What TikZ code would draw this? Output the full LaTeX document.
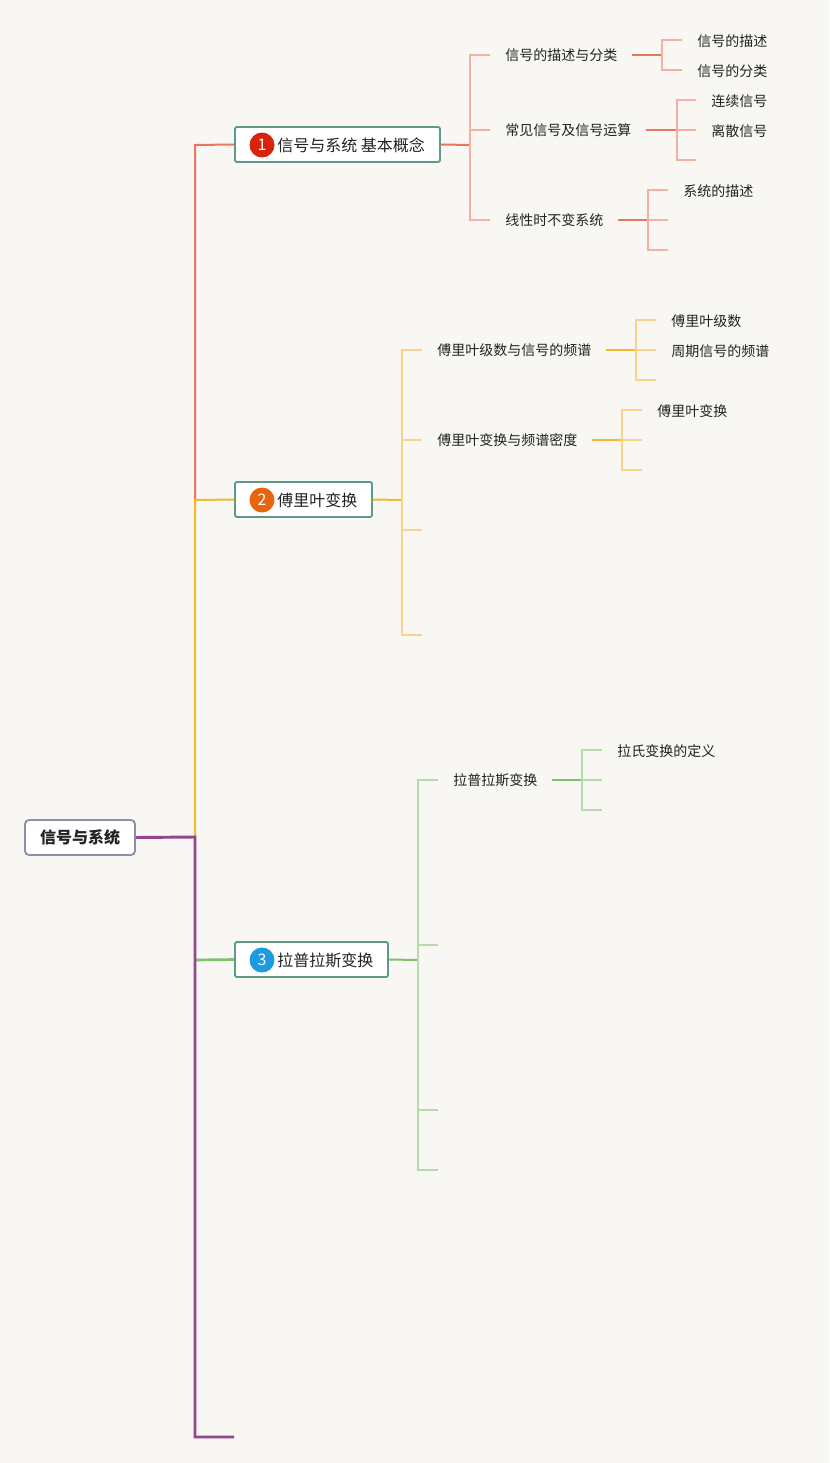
\documentclass[tikz,border=0pt]{standalone}
\usepackage{fontspec}
\setmainfont{Noto Sans CJK SC}
\definecolor{bg}{HTML}{F8F7F4}
\definecolor{txt}{HTML}{222222}
\definecolor{redm}{HTML}{EC7560}
\definecolor{redl}{HTML}{F5B0A3}
\definecolor{orm}{HTML}{F5B82E}
\definecolor{orl}{HTML}{F8D48A}
\definecolor{grm}{HTML}{7DC16A}
\definecolor{grl}{HTML}{B5DCA8}
\definecolor{purp}{HTML}{93468E}
\definecolor{tealb}{HTML}{5E998C}
\definecolor{rootb}{HTML}{8A90A6}
\definecolor{bdgr}{HTML}{D9230F}
\definecolor{bdgo}{HTML}{E8650F}
\definecolor{bdgb}{HTML}{1E9BE0}
\begin{document}
\begin{tikzpicture}[x=0.75pt,y=-0.75pt,
  lbl/.style={anchor=west,inner sep=0pt,font=\fontsize{10.5}{12}\selectfont,text=txt},
  mtxt/.style={anchor=west,inner sep=0pt,font=\fontsize{12}{14}\selectfont,text=txt},
  mbox/.style={draw=tealb,line width=1.4pt,fill=white,rounded corners=1.5pt,minimum height=26.25pt,inner sep=0pt},
  badge/.style={circle,inner sep=0pt,minimum size=18.75pt,text=white,font=\fontsize{12}{12}\selectfont},
  mainln/.style={line width=1.5pt},
  subln/.style={line width=1.1pt}
]
\fill[bg] (0,0) rectangle (829,1463);
\useasboundingbox (0,0) rectangle (829,1463);

% root
\node[draw=rootb,line width=1.4pt,fill=white,rounded corners=3pt,minimum width=82.5pt,minimum height=26.25pt,inner sep=0pt,font=\bfseries\fontsize{12}{14}\selectfont,text=txt] (root) at (80,837.5) {信号与系统};

% junction coordinates on trunk
\coordinate (t1) at (195,145);
\coordinate (t2) at (195,500);
\coordinate (t3) at (195,960);
\coordinate (tr) at (195,837);
\coordinate (tb) at (195,1437);
\coordinate (te) at (234,1437);

% main boxes
\node[mbox,minimum width=153.75pt] (m1) at (337.5,144.5) {};
\node[badge,fill=bdgr] (bd1) at (262,145) {1};
\node[mtxt] (m1t) at (277,145) {信号与系统 基本概念};
\node[mbox,minimum width=102.75pt] (m2) at (303.5,499.5) {};
\node[badge,fill=bdgo] (bd2) at (262,500) {2};
\node[mtxt] (m2t) at (277,500) {傅里叶变换};
\node[mbox,minimum width=114.75pt] (m3) at (311.5,959.5) {};
\node[badge,fill=bdgb] (bd3) at (262,960) {3};
\node[mtxt] (m3t) at (277,960) {拉普拉斯变换};

% trunk lines
\draw[redm,mainln] (t2) -- (t1) -- (m1.west);
\draw[orm,mainln] (tr) -- (t2) -- (m2.west);
\draw[grm,line width=2pt] (t3) -- (m3.west);
\draw[purp,line width=2.2pt] (root.east) -- (tr) -- (tb) -- (te);

% ---------- red subtree ----------
\coordinate (r0) at (470,145);
\coordinate (rA) at (470,55);
\coordinate (rB) at (470,130);
\coordinate (rC) at (470,220);
\coordinate (rAe) at (490,55);
\coordinate (rBe) at (490,130);
\coordinate (rCe) at (490,220);
\draw[redm,mainln] (m1.east) -- (r0);
\draw[redl,subln] (rAe) -- (rA) -- (rC) -- (rCe);
\draw[redl,subln] (rB) -- (rBe);
\node[lbl] (a1) at (505,55) {信号的描述与分类};
\node[lbl] (a2) at (505,130) {常见信号及信号运算};
\node[lbl] (a3) at (505,220) {线性时不变系统};

% a1 children
\coordinate (a1j) at (662,55);
\draw[redm,mainln] (632,55) -- (a1j);
\draw[redl,subln] (682,40) -- (662,40) -- (662,70) -- (682,70);
\node[lbl] (a11) at (697,41) {信号的描述};
\node[lbl] (a12) at (697,71) {信号的分类};

% a2 children
\coordinate (a2j) at (677,130);
\draw[redm,mainln] (646,130) -- (a2j);
\draw[redl,subln] (696,100) -- (677,100) -- (677,160) -- (696,160);
\draw[redl,subln] (a2j) -- (696,130);
\node[lbl] (a21) at (711,101) {连续信号};
\node[lbl] (a22) at (711,131) {离散信号};

% a3 children
\coordinate (a3j) at (648,220);
\draw[redm,mainln] (618,220) -- (a3j);
\draw[redl,subln] (668,190) -- (648,190) -- (648,250) -- (668,250);
\draw[redl,subln] (a3j) -- (668,220);
\node[lbl] (a31) at (683,191) {系统的描述};

% ---------- orange subtree ----------
\coordinate (o0) at (402,500);
\draw[orm,mainln] (m2.east) -- (o0);
\draw[orl,subln] (422,350) -- (402,350) -- (402,635) -- (422,635);
\draw[orl,subln] (402,440) -- (422,440);
\draw[orl,subln] (402,530) -- (422,530);
\node[lbl] (b1) at (437,350) {傅里叶级数与信号的频谱};
\node[lbl] (b2) at (437,440) {傅里叶变换与频谱密度};

\coordinate (b1j) at (636,350);
\draw[orm,mainln] (606,350) -- (b1j);
\draw[orl,subln] (656,320) -- (636,320) -- (636,380) -- (656,380);
\draw[orl,subln] (b1j) -- (656,350);
\node[lbl] (b11) at (671,321) {傅里叶级数};
\node[lbl] (b12) at (671,351) {周期信号的频谱};

\coordinate (b2j) at (622,440);
\draw[orm,mainln] (592,440) -- (b2j);
\draw[orl,subln] (642,410) -- (622,410) -- (622,470) -- (642,470);
\draw[orl,subln] (b2j) -- (642,440);
\node[lbl] (b21) at (657,411) {傅里叶变换};

% ---------- green subtree ----------
\coordinate (g0) at (418,960);
\draw[grm,mainln] (m3.east) -- (g0);
\draw[grl,subln] (438,780) -- (418,780) -- (418,1170) -- (438,1170);
\draw[grl,subln] (418,945) -- (438,945);
\draw[grl,subln] (418,1110) -- (438,1110);
\node[lbl] (c1) at (453,780) {拉普拉斯变换};

\coordinate (c1j) at (582,780);
\draw[grm,mainln] (552,780) -- (c1j);
\draw[grl,subln] (602,750) -- (582,750) -- (582,810) -- (602,810);
\draw[grl,subln] (c1j) -- (602,780);
\node[lbl] (c11) at (617,751) {拉氏变换的定义};
\end{tikzpicture}
\end{document}
